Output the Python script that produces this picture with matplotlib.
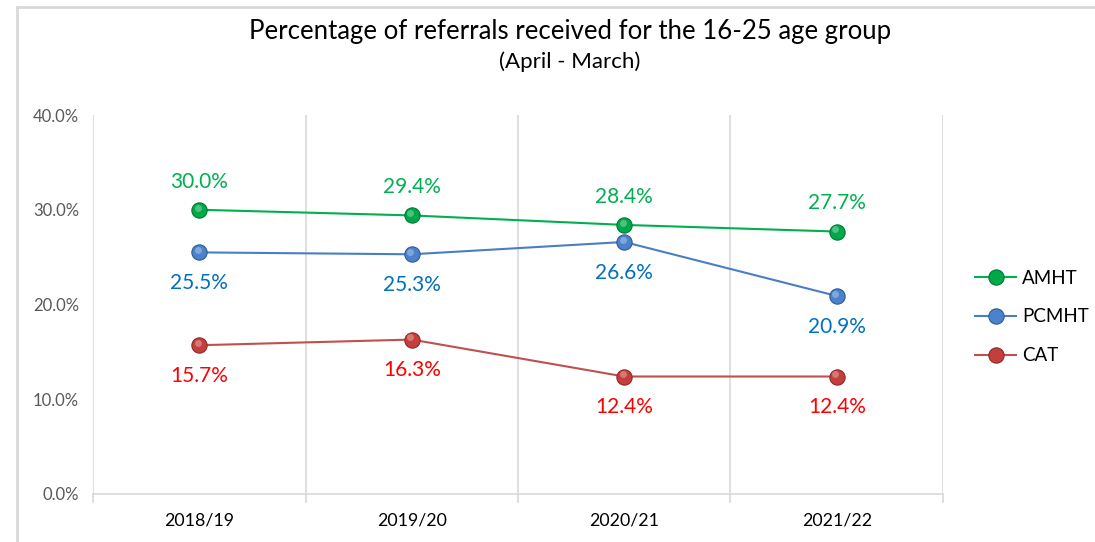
import matplotlib
matplotlib.use("Agg")
from matplotlib import pyplot as plt
from matplotlib.lines import Line2D
from matplotlib.transforms import offset_copy

years = ["2018/19", "2019/20", "2020/21", "2021/22"]
amht = [30.0, 29.4, 28.4, 27.7]
pcmht = [25.5, 25.3, 26.6, 20.9]
cat = [15.7, 16.3, 12.4, 12.4]
yticks = [0, 10, 20, 30, 40]

plt.rcParams['font.family'] = ['Lato', 'DejaVu Sans']

fig = plt.figure(figsize=(10.95, 5.42), dpi=100)
ax = fig.add_axes([93 / 1095, 1 - 494 / 542, 850 / 1095, 379 / 542])

series = [
    ("AMHT", amht, "#00B050", "#00A84A", "#007A35", "#00B050", 13),
    ("PCMHT", pcmht, "#4A7EC4", "#4A82CC", "#2F5A96", "#0070C0", -15),
    ("CAT", cat, "#C0504D", "#C43E3B", "#8E2A28", "#FF0000", -15),
]
x = list(range(len(years)))
hl = offset_copy(ax.transData, fig=fig, x=-1.2, y=1.5, units="points")
for name, vals, lc, mc, ec, tc, off in series:
    ax.plot(x, vals, color=lc, lw=1.5, marker="o", ms=11,
            mfc=mc, mec=ec, mew=0.8, label=name, zorder=3)
    # soft highlight to mimic the shaded ball markers
    ax.plot(x, vals, ls="none", marker="o", ms=5, mfc="white", mec="none",
            alpha=0.3, transform=hl, zorder=4)
    for xi, v in zip(x, vals):
        ax.annotate(f"{v:.1f}%", (xi, v), xytext=(0, off), textcoords="offset points",
                    ha="center", va="bottom" if off > 0 else "top",
                    color=tc, fontsize=15)

ax.set_xlim(-0.5, 3.5)
ax.set_ylim(0, 40)
ax.set_yticks(yticks)
ax.set_yticklabels([f"{t:.1f}%" for t in yticks], color="#595959", fontsize=12)
ax.set_xticks(x)
ax.set_xticklabels(years, fontsize=12.8, color="#000000")
ax.tick_params(axis="y", length=0, pad=10)
ax.tick_params(axis="x", length=0, pad=13)
for b in [-0.5, 0.5, 1.5, 2.5, 3.5]:
    ax.axvline(b, color="#D9D9D9", lw=1.2, zorder=1)
    ax.plot([b, b], [0, -0.8], color="#D9D9D9", lw=1.2, clip_on=False)
for s in ["top", "right", "left"]:
    ax.spines[s].set_visible(False)
ax.spines["bottom"].set_color("#D9D9D9")
ax.spines["bottom"].set_linewidth(1.2)

fig.text(570 / 1095, 1 - 32 / 542, "Percentage of referrals received for the 16-25 age group",
         ha="center", va="center", fontsize=18.5)
fig.text(570 / 1095, 1 - 62 / 542, "(April - March)", ha="center", va="center", fontsize=16)

leg = fig.legend(loc="center left", bbox_to_anchor=(958 / 1095, 1 - 317 / 542),
                 frameon=False, fontsize=13.5, handlelength=2.2, labelspacing=1.15,
                 handletextpad=0.3)

fig.add_artist(Line2D([17 / 1095, 1], [1 - 7 / 542, 1 - 7 / 542], transform=fig.transFigure,
                      color="#D9D9D9", lw=2))
fig.add_artist(Line2D([17 / 1095, 17 / 1095], [0, 1 - 7 / 542], transform=fig.transFigure,
                      color="#D9D9D9", lw=2))

fig.savefig("out.png", dpi=100)
